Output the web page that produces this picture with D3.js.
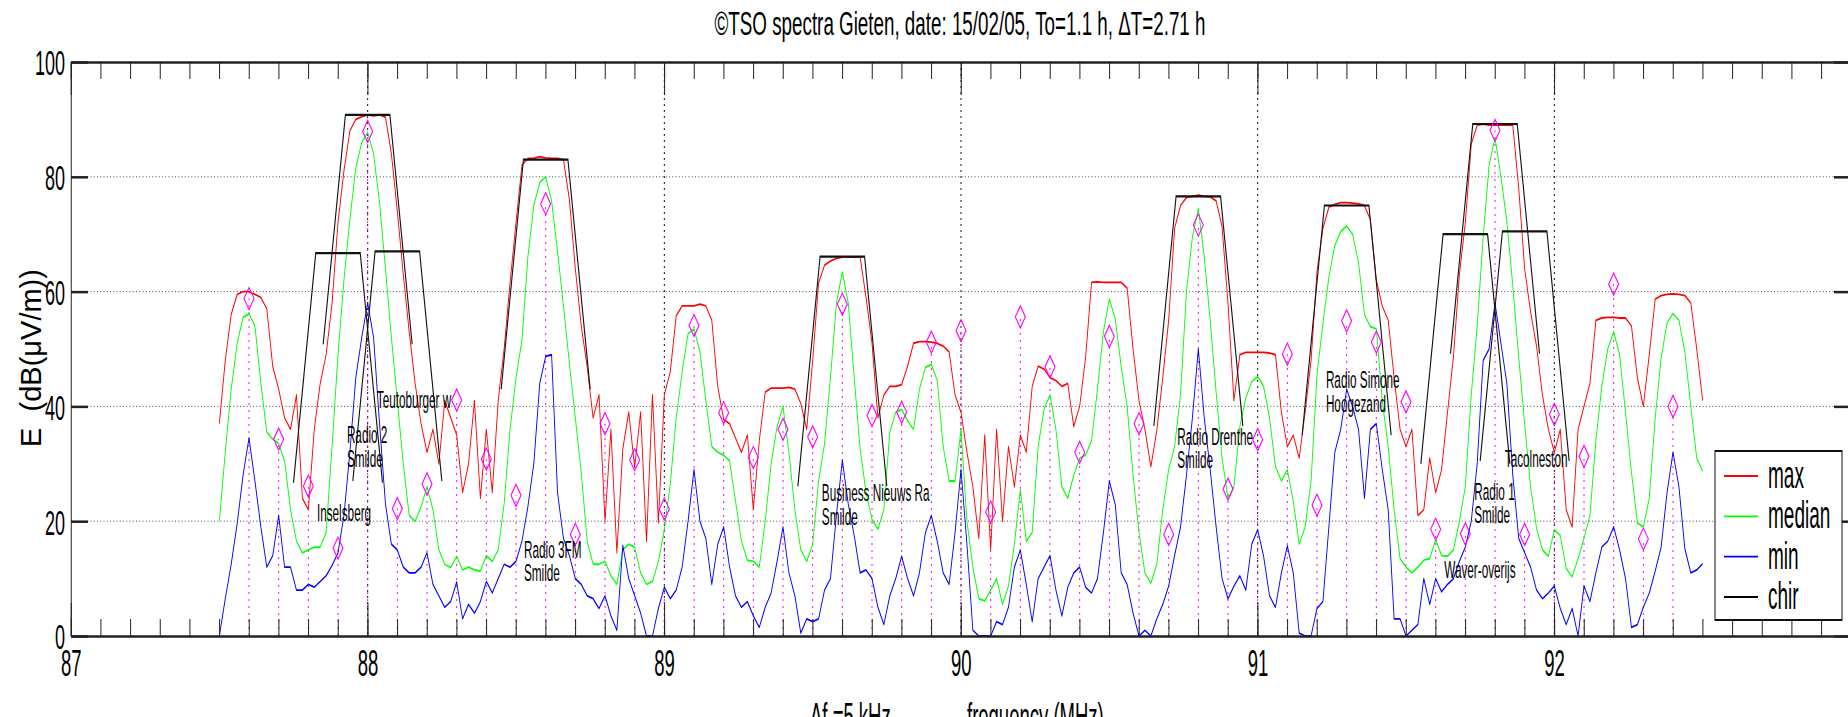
<!DOCTYPE html>
<html><head><meta charset="utf-8">
<script src="https://cdn.jsdelivr.net/npm/d3@7"></script>
<style>
html,body{margin:0;padding:0;background:#fff;overflow:hidden}
svg{display:block}
text{font-family:"Liberation Sans",Arial,Helvetica,sans-serif;fill:#000}
</style></head><body>
<svg id="chart" width="1848" height="717"></svg>
<script>
// ---------------- data ----------------
const titleText = "©TSO spectra Gieten, date: 15/02/05, To=1.1 h, ΔT=2.71 h";
const yLabelText = "E  (dB(μV/m))";
const xLabelStep = "Δf =5 kHz";
const xLabelText = "frequency (MHz)";
const xTickValues = [87, 88, 89, 90, 91, 92];
const yTickValues = [0, 20, 40, 60, 80, 100];
const xGridValues = [88, 89, 90, 91, 92];
const yGridValues = [20, 40, 60, 80];

// spectrum sweep: 87.50 .. 92.50 MHz, one value every 0.02 MHz
const freqStart = 87.5, freqStep = 0.02;
const maxValues = [
37,48,56,59.5,60,60,59.5,59,57,47,
43,38,36,42,24,22,36,44,49,58,
72,81,88,90,90.5,90.8,90.6,90.8,90.4,84,
74,63,53,44,37,32,36,30,41,38,
35,25,30,41,24,36,25,41,50,61.6,
72,82,83.2,83.2,83.5,83.3,83.2,83.2,83,76,
64,54,46.8,38,42,20,36,14.5,32.6,39,
29.4,39,16.5,42,19.7,42,46,55.8,57.5,57.5,
57.5,57.8,57.5,55,43.5,37.7,37,34.5,32,35,
22,34,42.5,43.2,43.2,43.2,43.3,43,40.5,36,
48,61.5,64.6,65.3,65.8,66,66,66,66,59,
51,38,42,43.5,43.5,43.8,47,51,51.3,51.3,
51.2,51,50.5,49.5,42,39,32,26,17,35,
15,36,20,33,26,35,32,43.5,47,46.5,
45,44.5,43.5,44,36.5,40,48.5,61.6,61.7,61.6,
61.6,61.6,61.6,60.6,50,41,36,29.5,35.8,45,
55,71,75,76.4,76.6,76.8,76.6,76.5,75.8,71.3,
58,41,49,49.4,49.4,49.4,49.4,49.3,49,39,
33,35,31,39,48,63.5,71,74.7,75.2,75.5,
75.5,75.4,75.3,75,72.5,62,57.5,55,45,36,
33,36,21,22,31,25,29,39,48.7,63,
72,85.7,89,89.2,89,89,89,89,89,78,
64,56.5,50.5,42,36,32,36,22,19,36,
40,44,55,55.4,55.5,55.5,55.4,55.4,54,45,
40,49,58.7,59.3,59.5,59.6,59.5,59.3,58,50,
41];
const medianValues = [
20,32,43,51,55.5,56.1,54,44,35.5,34.3,
33.5,30.5,22,16.5,14.5,15,15.5,15.5,18,33,
49,62,72.6,81.5,86,87.7,84,75.5,64,52,
41,30,21,20,22.5,26,22,15,12.5,11.9,
13.9,11.5,12,11.5,11.3,14,13,15,23,36,
45,51.5,66,75,79,80,75.8,67,57.5,47.5,
38,28.5,16.5,12.5,12.5,13,10.5,9,15,16,
15.5,11,9,9.5,13,18.5,26.5,38,46,52.7,
53.5,49.5,41,33,32,31.5,30.5,23.5,16.5,13.2,
13,12,20,30,36.5,40,32,22,15,13,
16,27,33.5,45,58,63.4,58,45,32.6,25,
20.3,18.6,22,35.5,39,39.5,37.5,36,43,46.8,
47.3,44.5,33,27,27,36,20,12,6.5,6.1,
8,10,5.5,8.7,16,25.5,16.5,18,33,39.5,
42,36,26,24,28,31,31.5,34,43,53,
58.7,55.2,47,40,28,18,11,9.2,12.5,22,
29,33,42,60,69.5,74.5,66,55,42.5,31,
24,26,36.5,41.5,44.3,45.2,43.5,38,29.5,27,
29,23.5,16,19,27,45.5,54.5,62.5,68,70.5,
71.4,70,65,56,53.9,53.5,41,33,22,13.5,
12,11,12,13.2,13.5,16.8,14,13.9,15,20,
26,42,54,69.4,82,86.8,80,72.2,61,48.5,
37,26,18.8,15,13.9,18.5,17.5,11.8,10.3,13.5,
17,21,34,43.5,50,53,49,39,28.5,19.7,
19,24,38,48.5,54.5,56.2,55,49.5,40,31,
28.7];
const minValues = [
0,6.5,12.5,19.5,28,34.5,27,19,12,14,
21,12,12,8,8,9,8.5,9.5,10.5,12.3,
14.5,21,32,45,52,58,52,37,23,16,
15,12,11,11,12,14.5,9,7,5,6,
9.4,3,5.5,4,6,9.5,7.5,10,12.5,12,
13,16.5,22.5,30,44,48.7,49,25,17,14,
10,9,7,6.5,4.8,7,3.5,1,15.8,10,
7,4,0,0,4.8,8.5,6.5,8,12,20,
29,20,17,9,16,19,12,7,5,6,
3.5,1.5,5,7.5,13,19,11,7,0.5,3,
2.5,3,8,10,21,30.6,23,17.5,11,11.5,
10,5,2,7,10,13.9,10,7,11,18,
21,16.5,11,9,18,29,16,1,0,0,
0,2.5,2,5,12,15,9,2.5,10,12,
14,8,3.5,8.5,11,12,8.5,7.5,10,18,
27,22.9,11,9,4,0,1,0,3,5.5,
8.7,14,19,28,38,50,38,29,19,10,
6.5,8.7,10.5,8,16,18.5,13.9,7,5,11,
15.7,11,0.5,0,0,4.8,6,19,32,36,
43,40,36,24,36,37,29,22,3,3,
0,1,2,10,5.5,10,7.7,9,10,13,
15.5,20,30,48,50,58,51,44,28,17,
14.5,12,8,6.5,7.5,8.7,4.8,2,4.8,0,
8.7,6,11,15.5,16.5,19,15,10,1.5,2,
5,7.5,11.3,15.5,25,32,26,15.2,11,11.5,
12.6];

// magenta channel markers
const markerFreqs = [87.6,87.7,87.8,87.9,88.0,88.1,88.2,88.3,88.4,88.5,88.6,88.7,88.8,88.9,89.0,89.1,89.2,89.3,89.4,89.5,
89.6,89.7,89.8,89.9,90.0,90.1,90.2,90.3,90.4,90.5,90.6,90.7,90.8,90.9,91.0,91.1,91.2,91.3,91.4,91.5,
91.6,91.7,91.8,91.9,92.0,92.1,92.2,92.3,92.4];
const markerValues = [58.8,34.3,26.1,15.3,87.9,22.2,26.5,41.1,30.8,24.5,75.3,17.7,37,30.7,22.1,54.1,38.9,31.1,36,34.7,
57.8,38.4,39,51.2,53.2,21.6,55.6,46.9,32,52.2,37,17.7,71.6,25.6,34.2,49.1,22.8,54.9,51.2,40.8,
18.6,17.8,88.1,17.7,38.6,31.3,61.3,16.9,40];

// chir masks: centre frequency and top level, mask shape offsets
const chirCenters = [87.9, 88.0, 88.1, 88.6, 89.6, 90.8, 91.3, 91.7, 91.8, 91.9];
const chirTops    = [66.7, 90.8, 67.0, 83.0, 66.1, 76.6, 75.0, 70.0, 89.2, 70.5];
const chirOffsets = [-0.15, -0.075, 0.075, 0.15];
const chirDrops   = [40, 0, 0, 40];

// station annotations
const stationLines = [["Teutoburger w"],["Radio 2","Smilde"],["Inselsberg"],["Radio 3FM","Smilde"],
  ["Business Nieuws Ra","Smilde"],["Radio Drenthe","Smilde"],["Radio Simone","Hoogezand"],
  ["Radio 1","Smilde"],["Tacolneston"],["Waver-overijs"]];
const stationFreqs  = [88.031, 87.93, 87.829, 88.527, 89.531, 90.729, 91.23, 91.73, 91.833, 91.629];
const stationLevels = [39.7, 33.6, 20.0, 13.6, 23.5, 33.3, 43.2, 23.7, 29.4, 10.1];

const legendLabels = ["max", "median", "min", "chir"];
const seriesColors = ["#ff0000", "#00ff00", "#0000ff", "#000000"];

// ---------------- drawing ----------------
const SX = 2;                       // horizontal condensing of the original figure
const svg = d3.select("#chart");
const x = d3.scaleLinear().domain([87, 93]).range([71 * SX, 1851 * SX]);
const y = d3.scaleLinear().domain([0, 100]).range([636, 62]);
const freqs = maxValues.map((_, i) => +(freqStart + i * freqStep).toFixed(3));

const g = svg.append("g").attr("transform", `scale(${1 / SX},1)`);

// grid
g.append("g").selectAll("line").data(yGridValues).join("line")
  .attr("x1", x(87)).attr("x2", x(93)).attr("y1", d => y(d)).attr("y2", d => y(d))
  .attr("stroke", "#111").attr("stroke-width", 1).attr("stroke-dasharray", "2,4.5");
g.append("g").selectAll("line").data(xGridValues).join("line")
  .attr("x1", d => x(d)).attr("x2", d => x(d)).attr("y1", y(100)).attr("y2", y(0))
  .attr("stroke", "#111").attr("stroke-width", 2).attr("stroke-dasharray", "2,4");

// magenta stems
g.append("g").selectAll("line").data(markerFreqs).join("line")
  .attr("x1", d => x(d)).attr("x2", d => x(d))
  .attr("y1", y(0)).attr("y2", (d, i) => y(markerValues[i]))
  .attr("stroke", "#ff00ff").attr("stroke-width", 2).attr("stroke-dasharray", "2,5");

// curves
const line = d3.line().x((d, i) => x(freqs[i])).y(d => y(d));
[[maxValues, 0], [medianValues, 1], [minValues, 2]].forEach(([vals, k]) => {
  g.append("path").datum(vals).attr("d", line)
    .attr("fill", "none").attr("stroke", seriesColors[k]).attr("stroke-width", 1.8)
    .attr("stroke-linejoin", "round");
});

// chir masks
const chirLine = d3.line().x(d => x(d[0])).y(d => y(d[1]));
g.append("g").selectAll("path").data(chirCenters).join("path")
  .attr("d", (c, i) => chirLine(chirOffsets.map((o, j) => [c + o, chirTops[i] - chirDrops[j]])))
  .attr("fill", "none").attr("stroke", "#111").attr("stroke-width", 2.2);

// diamonds
const dw = 10, dh = 11;
g.append("g").selectAll("path").data(markerFreqs).join("path")
  .attr("transform", (d, i) => `translate(${x(d)},${y(markerValues[i])})`)
  .attr("d", `M0,${-dh}L${dw},0L0,${dh}L${-dw},0Z`)
  .attr("fill", "none").attr("stroke", "#ff00ff").attr("stroke-width", 1.8);

// axes
function styleAxis(sel, w) {
  sel.attr("font-family", null).attr("font-size", null);
  sel.select(".domain").attr("stroke", "#222").attr("stroke-width", 2);
  sel.selectAll(".tick line").attr("stroke", "#222").attr("stroke-width", w);
}
const minorTicks = d3.range(0, 61).map(i => +(87 + i * 0.1).toFixed(1));
g.append("g").attr("transform", `translate(0,${y(0)})`)
  .call(d3.axisBottom(x).tickValues(minorTicks).tickSize(-17).tickSizeOuter(0).tickFormat(""))
  .call(s => styleAxis(s, 2));
g.append("g").attr("transform", `translate(0,${y(100)})`)
  .call(d3.axisTop(x).tickValues(minorTicks).tickSize(-17).tickSizeOuter(0).tickFormat(""))
  .call(s => styleAxis(s, 2));
g.append("g").attr("transform", `translate(0,${y(100)})`)
  .call(d3.axisTop(x).tickValues(xTickValues.concat([93])).tickSize(-33).tickSizeOuter(0).tickFormat(""))
  .call(s => styleAxis(s, 2));
const xb = g.append("g").attr("transform", `translate(0,${y(0)})`)
  .call(d3.axisBottom(x).tickValues(xTickValues).tickSize(-33).tickSizeOuter(0).tickPadding(14).tickFormat(d3.format("d")))
  .call(s => styleAxis(s, 2));
xb.selectAll("text").attr("font-size", 37).attr("fill", "#000");
const yl = g.append("g").attr("transform", `translate(${x(87)},0)`)
  .call(d3.axisLeft(y).tickValues(yTickValues).tickSize(-34).tickSizeOuter(0).tickPadding(12).tickFormat(d3.format("d")))
  .call(s => styleAxis(s, 2.5));
yl.selectAll("text").attr("font-size", 36).attr("fill", "#000").attr("dy", "0.36em");
g.append("g").attr("transform", `translate(${x(93)},0)`)
  .call(d3.axisRight(y).tickValues(yTickValues).tickSize(-34).tickSizeOuter(0).tickFormat(""))
  .call(s => styleAxis(s, 2.5));

// station labels
const st = g.append("g");
stationLines.forEach((lines, i) => {
  const t = st.append("text").attr("font-size", 23.5)
    .attr("x", x(stationFreqs[i])).attr("y", y(stationLevels[i]));
  lines.forEach((l, j) => t.append("tspan").attr("x", x(stationFreqs[i])).attr("dy", j ? 23.5 : 0).text(l));
});

// axis labels (cut by the bottom edge, as in the original)
g.append("text").attr("x", 810 * SX).attr("y", 729).attr("font-size", 37).text(xLabelStep);
g.append("text").attr("x", 967 * SX).attr("y", 729).attr("font-size", 37).text(xLabelText);

// title
g.append("text").attr("x", 960 * SX).attr("y", 35).attr("text-anchor", "middle")
  .attr("font-size", 32.5).attr("textLength", 491 * SX).attr("lengthAdjust", "spacingAndGlyphs")
  .text(titleText);

// legend
const lg = g.append("g");
lg.append("rect").attr("x", 1715 * SX).attr("y", 451).attr("width", 127 * SX).attr("height", 169)
  .attr("fill", "#fff").attr("stroke", "#111").attr("stroke-width", 2);
const legendY = d3.scalePoint().domain(legendLabels).range([476, 597]);
legendLabels.forEach((lab, i) => {
  lg.append("line").attr("x1", 1724 * SX).attr("x2", 1758 * SX)
    .attr("y1", legendY(lab)).attr("y2", legendY(lab))
    .attr("stroke", seriesColors[i]).attr("stroke-width", 1.8);
  lg.append("text").attr("x", 1768 * SX).attr("y", legendY(lab) + 12).attr("font-size", 38).text(lab);
});

// y label (not condensed)
svg.append("text").attr("transform", "translate(41,358) rotate(-90)")
  .attr("text-anchor", "middle").attr("font-size", 29)
  .text(yLabelText.replace(/ /g, "\u00a0"));
</script>
</body></html>
